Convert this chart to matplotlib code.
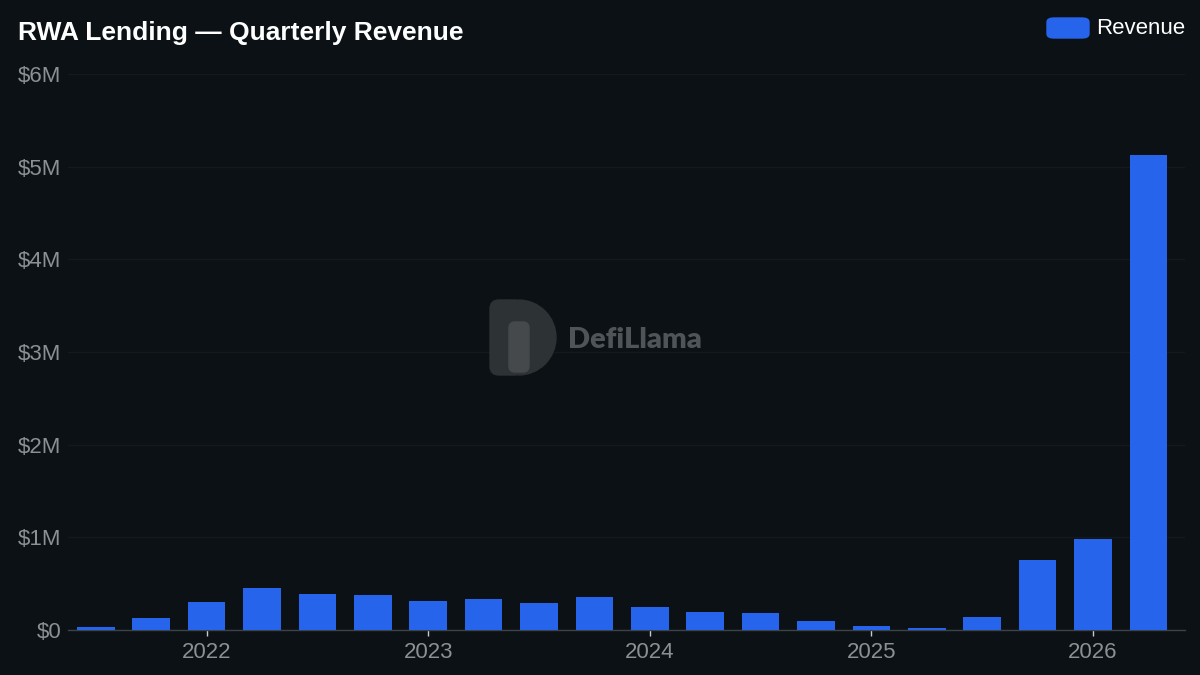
import matplotlib.pyplot as plt
from matplotlib.patches import FancyBboxPatch, Wedge
from matplotlib.transforms import IdentityTransform
from matplotlib.ticker import FuncFormatter

BG = '#0b1114'
BAR = '#2664eb'
GRID = '#131a1d'
LABEL = '#8b9094'

# quarterly revenue, 2021 Q3 .. 2026 Q2 (USD millions)
quarters = ['2021Q3', '2021Q4', '2022Q1', '2022Q2', '2022Q3', '2022Q4',
            '2023Q1', '2023Q2', '2023Q3', '2023Q4', '2024Q1', '2024Q2',
            '2024Q3', '2024Q4', '2025Q1', '2025Q2', '2025Q3', '2025Q4',
            '2026Q1', '2026Q2']
revenue_m = [0.03, 0.13, 0.30, 0.45, 0.39, 0.38, 0.31, 0.33, 0.295, 0.36,
             0.25, 0.19, 0.18, 0.10, 0.046, 0.018, 0.137, 0.76, 0.98, 5.13]
year_labels = ['2022', '2023', '2024', '2025', '2026']
y_ticks = [0, 1, 2, 3, 4, 5, 6]

plt.rcParams['font.family'] = ['Liberation Sans', 'DejaVu Sans']

W, H = 1200, 675
fig = plt.figure(figsize=(12, 6.75), dpi=100, facecolor=BG)
ax = fig.add_axes([0.0567, 0.0667, 0.9308, 0.8237], facecolor=BG)

x = list(range(len(quarters)))
ax.bar(x, revenue_m, width=0.68, color=BAR, label='Revenue', zorder=3)

ax.set_xlim(-0.5, 19.66)
ax.set_ylim(0, 6)
ax.set_yticks(y_ticks)
ax.yaxis.set_major_formatter(FuncFormatter(lambda v, p: '$0' if v == 0 else f'${v:g}M'))
ax.grid(axis='y', color=GRID, linewidth=1, zorder=0)

year_pos = [quarters.index(y + 'Q1') for y in year_labels]
ax.set_xticks(year_pos)
ax.set_xticklabels(year_labels)

ax.tick_params(axis='y', length=0, pad=5, labelsize=16, labelcolor=LABEL)
ax.tick_params(axis='x', length=4, width=1, color='#c8cbcd', pad=5,
               labelsize=16, labelcolor=LABEL)
for side in ['top', 'right', 'left']:
    ax.spines[side].set_visible(False)
ax.spines['bottom'].set_color('#3c4347')
ax.spines['bottom'].set_linewidth(1)

fig.text(0.015, 0.951, 'RWA Lending — Quarterly Revenue', color='white',
         fontsize=19, fontweight='bold', va='center', ha='left')

# legend
fig.patches.append(FancyBboxPatch((1047 / W, 1 - 38 / H), 42 / W, 20 / H,
                                  boxstyle='round,pad=0.0,rounding_size=0.006',
                                  transform=fig.transFigure, color=BAR))
fig.text(1096 / W, 1 - 28 / H, 'Revenue', color='white', fontsize=16,
         va='center', ha='left')

# watermark: D-shaped logo + name (pixel coordinates)
px = IdentityTransform()
d_col = '#2d3235'
fig.patches.append(FancyBboxPatch((490, H - 375), 34, 75,
                                  boxstyle='round,pad=0.0,rounding_size=9',
                                  transform=px, color=d_col, zorder=1))
fig.patches.append(Wedge((518.5, H - 337.5), 37.5, -90, 90,
                         transform=px, color=d_col, zorder=1))
fig.patches.append(FancyBboxPatch((509, H - 372), 20, 50,
                                  boxstyle='round,pad=0.0,rounding_size=6',
                                  transform=px, color='#45494b', zorder=1))
fig.text(568 / W, 1 - 340 / H, 'DefiLlama', color='#4f5457', fontsize=21,
         fontweight='heavy', family=['Lato', 'DejaVu Sans'], va='center', ha='left')

fig.savefig('out.png', dpi=100, facecolor=BG)
